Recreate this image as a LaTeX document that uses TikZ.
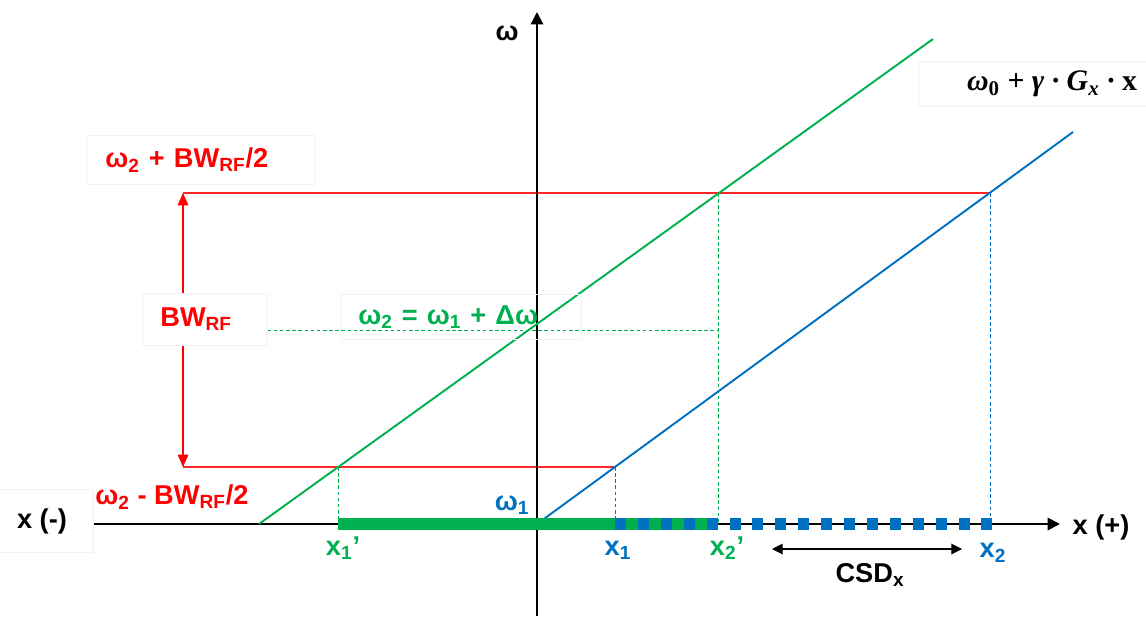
\documentclass[tikz,border=0pt]{standalone}
\usepackage{fontspec}
\setmainfont{Liberation Sans}
\newfontfamily\formulafont{Liberation Serif}
\usetikzlibrary{positioning,arrows.meta}

\definecolor{ink}    {HTML}{000000}
\definecolor{rfred}  {HTML}{FF0000}
\definecolor{lngreen}{HTML}{00B050}
\definecolor{lnblue} {HTML}{0070C0}
\colorlet{boxline}{black!5}

\newcommand{\lowidx}[1]{\textsubscript{#1}}

\tikzset{
  >={Triangle[length=7pt,width=7pt]},
  every node/.style={font=\bfseries\fontsize{15.5}{17}\selectfont},
  % --- labels
  lbl/.style    = {inner sep=1pt},
  rflbl/.style  = {lbl, text=rfred},
  grlbl/.style  = {lbl, text=lngreen},
  bllbl/.style  = {lbl, text=lnblue},
  box/.style    = {draw=boxline, line width=0.4pt},
  mathlbl/.style= {lbl, font=\formulafont\bfseries\itshape\fontsize{17}{19}\selectfont},
  % --- lines
  axis/.style   = {->, line width=1.1pt, draw=ink},
  gline/.style  = {line width=1.1pt, draw=lngreen},
  bline/.style  = {line width=1.1pt, draw=lnblue},
  rfline/.style = {line width=0.6pt, draw=rfred!85},
  gdash/.style  = {dash pattern=on 2pt off 1.5pt, line width=0.5pt, draw=lngreen},
  bdash/.style  = {dash pattern=on 2pt off 1.5pt, line width=0.5pt, draw=lnblue},
  rfarrow/.style= {<->, line width=0.6pt, draw=rfred, >={Triangle[length=7pt,width=6pt]}},
  csd/.style    = {<->, line width=0.6pt, draw=ink, >={Triangle[length=6pt,width=6pt]}},
}

\begin{document}
\begin{tikzpicture}[x=0.02cm,y=-0.02cm]
  \useasboundingbox (0,0) rectangle (1146,616);

  % where the band meets the lines
  \coordinate (gstart) at (259,524);
  \coordinate (gend)   at (933,39);
  \coordinate (bstart) at (537,524);
  \coordinate (bend)   at (1073,132);
  \coordinate (gtop)   at (718,193);
  \coordinate (btop)   at (990,193);
  \coordinate (glow)   at (338,467);
  \coordinate (blow)   at (615,467);
  \coordinate (rftop)  at (183,193);
  \coordinate (rflow)  at (183,467);
  \coordinate (x1p)    at (338,524);
  \coordinate (x1)     at (615,524);
  \coordinate (x2p)    at (718,524);
  \coordinate (x2)     at (990,524);
  \coordinate (xtip)   at (1060,524);
  \coordinate (ybot)   at (537,616);
  \coordinate (ytop)   at (537,12);
  \coordinate (wmid)   at (718,330);
  \coordinate (csdl)   at (772,549);
  \coordinate (csdr)   at (962,549);

  % RF band
  \draw[rfline] (rftop) -- (btop);
  \draw[rfline] (rflow) -- (blow);
  \draw[rfarrow] (rftop) -- (rflow);
  \node[rflbl, box, fill=white, anchor=west, align=left, text width=1.78cm, inner xsep=0.36cm,
        minimum height=1.04cm] (bw) at (142,319) {BW\lowidx{RF}};
  \node[rflbl, box, anchor=west, align=left, text width=3.82cm, inner xsep=0.38cm,
        minimum height=0.98cm] (uplim) at (86,160) {ω\lowidx{2} + BW\lowidx{RF}/2};
  \node[rflbl] (lowlim) at (172,497) {ω\lowidx{2} - BW\lowidx{RF}/2};

  % dashed guides
  \draw[gdash] (bw.east |- wmid) -- (wmid);
  \draw[gdash] (glow) -- (x1p);
  \draw[gdash] (gtop) -- (x2p);
  \draw[bdash] (blow) -- (x1);
  \draw[bdash] (btop) -- (x2);

  % axes
  \node[lbl, box, minimum width=2.06cm, minimum height=1.25cm] (xneg) at (42,521) {x (-)};
  \draw[axis] (xneg.east |- xtip) -- (xtip);
  \draw[axis] (ybot) -- (ytop);
  \node[lbl] (wax)  at (507,33)   {ω};
  \node[lbl] (xpos) at (1101,527) {x (+)};

  % the two lines
  \draw[gline] (gstart) -- (gend);
  \draw[bline] (bstart) -- (bend);

  % slice on the x axis
  \draw[lngreen, line width=6.6pt] (x1p) -- (x2p);
  \foreach \i in {0,...,16}
    \fill[lnblue] ({615+\i*22.9},518) rectangle +(11,12);

  % labels
  \node[grlbl, box, anchor=west, align=left, text width=4.1cm, inner xsep=0.36cm,
        minimum height=0.9cm] (w2) at (340,317) {ω\lowidx{2} = ω\lowidx{1} + Δω};
  \node[bllbl] (w1)   at (512,505) {ω\lowidx{1}};
  \node[grlbl] (lx1p) at (343,548) {x\lowidx{1}’};
  \node[bllbl] (lx1)  at (618,550) {x\lowidx{1}};
  \node[grlbl] (lx2p) at (727,548) {x\lowidx{2}’};
  \node[bllbl] (lx2)  at (993,553) {x\lowidx{2}};
  \draw[csd] (csdl) -- (csdr);
  \node[lbl] (csdlbl) at (870,575) {CSD\lowidx{x}};
  \node[mathlbl, box, minimum width=5.36cm, minimum height=0.9cm] (formula) at (1052,84)
    {ω\lowidx{\upshape 0} + γ · G\lowidx{x} · \upshape x};
\end{tikzpicture}
\end{document}
